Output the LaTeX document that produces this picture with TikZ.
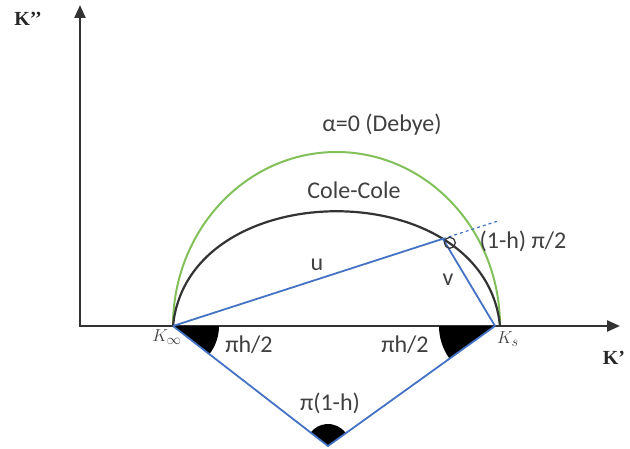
\documentclass[tikz,border=0pt]{standalone}
\usepackage{fontspec}
\setmainfont{Carlito}
\newfontfamily\serifb{Liberation Serif}
\usetikzlibrary{arrows.meta,calc}
\definecolor{bl}{RGB}{68,114,196}
\definecolor{gr}{RGB}{130,192,90}
\definecolor{tx}{RGB}{64,64,64}
\begin{document}
\begin{tikzpicture}[x=1pt,y=1pt,
  axis/.style={draw=black!80, line width=2.4pt, {Triangle[length=13pt,width=11pt]}-{Triangle[length=13pt,width=11pt]}},
  lbl/.style={text=tx, font=\fontsize{24}{28}\selectfont, inner sep=0pt},
  klbl/.style={text=black!75, font=\fontsize{19}{22}\selectfont, inner sep=0pt},
  kb/.style={text=black!85, font=\serifb\bfseries\fontsize{20}{24}\selectfont, inner sep=0pt},
  blueline/.style={draw=bl, line width=1.8pt},
  wedge/.style={fill=black}]
\useasboundingbox (0,0) rectangle (630,448);
% key points
\coordinate (O) at (80,122);
\coordinate (Ytip) at (80,443);
\coordinate (Xtip) at (620,122);
\coordinate (Kinf) at (173,122);
\coordinate (Ks) at (500,122);
\coordinate (Kb) at (495,122);
\coordinate (A) at (328,2);
% axes
\draw[axis] (Ytip) -- (O) -- (Xtip);
% wedges
\fill[wedge] (Kinf) -- ++(0:46) arc[start angle=0,end angle=-37.75,radius=46] -- cycle;
\fill[wedge] (Kb) -- ++(180:56) arc[start angle=180,end angle=215.7,radius=56] -- cycle;
\fill[wedge] (A) -- ++(35.7:22) arc[start angle=35.7,end angle=142.25,radius=22] -- cycle;
% Debye semicircle
\draw[gr, line width=2pt] (Kinf) arc[start angle=180,end angle=0,x radius=163.5,y radius=174];
% Cole-Cole arc
\draw[black!80, line width=2.2pt] (Kinf) .. controls (188,275) and (485,275) .. (Ks);
\path (Kinf) .. controls (188,275) and (485,275) .. (Ks) coordinate[pos=0.745] (P);
\coordinate (D) at ($(Kinf)!1.2!(P)$);
% blue construction lines
\draw[blueline] (Kinf) -- (P) -- (Kb);
\draw[blueline, dashed, line width=1.2pt] (P) -- (D);
\draw[blueline] (Kinf) -- (A) -- (Kb);
\draw[black!80, line width=1.2pt] ($(P)+(7,-4)$) circle[radius=5.5];
% labels
\node[lbl] (deb) at (382,323) {α=0 (Debye)};
\node[lbl] (cc) at (354,258) {Cole-Cole};
\node[lbl] (u) at (317,183) {u};
\node[lbl] (v) at (448,168) {v};
\node[lbl] (ang) at (523,207) {(1-h) π/2};
\node[lbl] (ph1) at (249,103) {πh/2};
\node[lbl] (ph2) at (405,103) {πh/2};
\node[lbl] (p1h) at (330,45) {π(1-h)};
\node[klbl] (lKinf) at (167,111) {$K_\infty$};
\node[klbl] (lKs) at (508,109) {$K_s$};
\node[kb] (ky) at (28,429) {K’’};
\node[kb] (kx) at (614,90) {K’};
\end{tikzpicture}
\end{document}
